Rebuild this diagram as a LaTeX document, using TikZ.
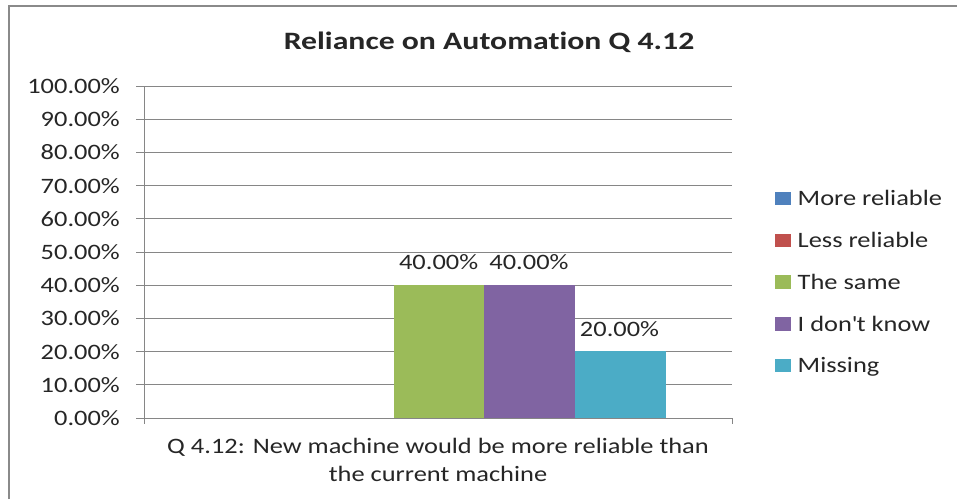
\documentclass[tikz,border=0pt]{standalone}
\usepackage{fontspec}
\setmainfont{Carlito}[FakeStretch=1.2, Ligatures={NoCommon}]
\newfontfamily\titlefont{Carlito}[FakeStretch=1.27, Ligatures={NoCommon}]
\definecolor{moreRel}{HTML}{4F81BD}
\definecolor{lessRel}{HTML}{C0504D}
\definecolor{theSame}{HTML}{9BBB59}
\definecolor{dontKnow}{HTML}{8064A2}
\definecolor{missing}{HTML}{4BACC6}
\definecolor{gridGray}{HTML}{868686}
\definecolor{frameGray}{HTML}{8A8A8A}
\begin{document}
\begin{tikzpicture}[x=1pt, y=-1pt,
  every node/.style={font=\fontsize{22}{26}\selectfont, inner sep=0pt, text=black!85},
  gridline/.style={gridGray, line width=1pt},
  ylab/.style={anchor=east},
  bar/.style={anchor=south west, minimum width=90.7pt},
  key/.style={minimum width=16pt, minimum height=13.5pt},
  keytext/.style={anchor=base west}]
  \useasboundingbox (0,0) rectangle (957,499);
  \fill[white] (0,0) rectangle (957,499);
  % Frame
  \draw[frameGray, line width=2pt] (8.5,499) -- (8.5,6) -- (957,6);
  % Title
  \node (title) [anchor=base, font=\titlefont\bfseries\fontsize{25}{28}\selectfont] at (489,49.3) {Reliance on Automation Q 4.12};
  % Grid
  \draw[gridline] (136,86) -- (732,86);
  \draw[gridline] (136,119.2) -- (732,119.2);
  \draw[gridline] (136,152.4) -- (732,152.4);
  \draw[gridline] (136,185.6) -- (732,185.6);
  \draw[gridline] (136,218.8) -- (732,218.8);
  \draw[gridline] (136,252) -- (732,252);
  \draw[gridline] (136,285.2) -- (732,285.2);
  \draw[gridline] (136,318.4) -- (732,318.4);
  \draw[gridline] (136,351.6) -- (732,351.6);
  \draw[gridline] (136,384.8) -- (732,384.8);
  % Bars
  \node (sameBar) [bar, fill=theSame, minimum height=132.8pt] at (393.3,418) {};
  \node (dontBar) [bar, fill=dontKnow, minimum height=132.8pt] at (484,418) {};
  \node (missBar) [bar, fill=missing, minimum height=66.4pt] at (574.7,418) {};
  % Axes
  \draw[gridline] (136,418) -- (732,418);
  \draw[gridline] (144,86) -- (144,424);
  \draw[gridline] (732,418) -- (732,424);
  % Axis labels
  \node (y100) [ylab] at (120,86) {100.00\%};
  \node (y90) [ylab] at (120,119.2) {90.00\%};
  \node (y80) [ylab] at (120,152.4) {80.00\%};
  \node (y70) [ylab] at (120,185.6) {70.00\%};
  \node (y60) [ylab] at (120,218.8) {60.00\%};
  \node (y50) [ylab] at (120,252) {50.00\%};
  \node (y40) [ylab] at (120,285.2) {40.00\%};
  \node (y30) [ylab] at (120,318.4) {30.00\%};
  \node (y20) [ylab] at (120,351.6) {20.00\%};
  \node (y10) [ylab] at (120,384.8) {10.00\%};
  \node (y0) [ylab] at (120,418) {0.00\%};
  \node (catLine1) [anchor=base] at (438,453) {Q 4.12: New machine would be more reliable than};
  \node (catLine2) [anchor=base] at (438,481) {the current machine};
  % Values
  \node (sameVal) at (438.6,262) {40.00\%};
  \node (dontVal) at (529,262) {40.00\%};
  \node (missVal) at (619.5,329) {20.00\%};
  % Legend
  \node (moreKey) [key, fill=moreRel] at (783,198.5) {};
  \node (lessKey) [key, fill=lessRel] at (783,240.3) {};
  \node (sameKey) [key, fill=theSame] at (783,282) {};
  \node (dontKey) [key, fill=dontKnow] at (783,324) {};
  \node (missKey) [key, fill=missing] at (783,365.7) {};
  \node (moreText) [keytext] at (797.5,205.5) {More reliable};
  \node (lessText) [keytext] at (797.5,247.3) {Less reliable};
  \node (sameText) [keytext] at (797.5,289) {The same};
  \node (dontText) [keytext] at (797.5,331) {I don\textquotesingle t know};
  \node (missText) [keytext] at (797.5,372.7) {Missing};
\end{tikzpicture}
\end{document}
